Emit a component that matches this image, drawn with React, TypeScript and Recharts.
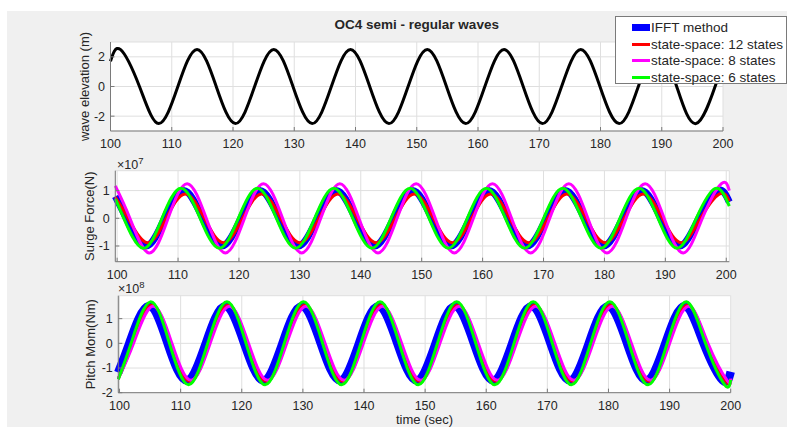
import React from 'react';
import { LineChart, Line, XAxis, YAxis, CartesianGrid } from 'recharts';

const FONT = '"Liberation Sans", Arial, Helvetica, sans-serif';
const AXIS = '#7a7a7a';
const TEXT = '#262626';
const GRID = '#dfdfdf';

const xTicks = [100, 110, 120, 130, 140, 150, 160, 170, 180, 190, 200];

// wave elevation (m): start, peaks / zero crossings / troughs, end
const waveT = [100, 101.6, 104.73, 107.87, 111.0, 114.13, 117.26, 120.4, 123.53, 126.66, 129.79, 132.93, 136.06, 139.19, 142.32, 145.46, 148.59, 151.72, 154.85, 157.99, 161.12, 164.25, 167.38, 170.52, 173.65, 176.78, 179.91, 183.05, 186.18, 189.31, 192.44, 195.58, 198.71, 200];
const waveV = [1.7, 2.5, 0, -2.5, 0, 2.5, 0, -2.5, 0, 2.5, 0, -2.5, 0, 2.5, 0, -2.5, 0, 2.5, 0, -2.5, 0, 2.5, 0, -2.5, 0, 2.5, 0, -2.5, 0, 2.5, 0, -2.5, 0, 1.5];

// surge force (x1e7 N)
const surgeIfftT = [99.7, 101.5, 104.63, 107.77, 110.9, 114.03, 117.17, 120.3, 123.43, 126.56, 129.7, 132.83, 135.96, 139.09, 142.23, 145.36, 148.49, 151.62, 154.76, 157.89, 161.02, 164.15, 167.29, 170.42, 173.55, 176.68, 179.82, 182.95, 186.08, 189.21, 192.35, 195.48, 198.61, 200.5];
const surgeIfftV = [0.79, 0, -1, 0, 1, 0, -1, 0, 1, 0, -1, 0, 1, 0, -1, 0, 1, 0, -1, 0, 1, 0, -1, 0, 1, 0, -1, 0, 1, 0, -1, 0, 1, 0.59];
const surgeSs12T = [99.7, 101.8, 104.93, 108.07, 111.2, 114.33, 117.47, 120.6, 123.73, 126.86, 130.0, 133.13, 136.26, 139.39, 142.53, 145.66, 148.79, 151.92, 155.06, 158.19, 161.32, 164.45, 167.59, 170.72, 173.85, 176.98, 180.12, 183.25, 186.38, 189.51, 192.65, 195.78, 198.91, 200.5];
const surgeSs12V = [0.77, 0, -0.88, 0, 0.88, 0, -0.88, 0, 0.88, 0, -0.88, 0, 0.88, 0, -0.88, 0, 0.88, 0, -0.88, 0, 0.88, 0, -0.88, 0, 0.88, 0, -0.88, 0, 0.88, 0, -0.88, 0, 0.88, 0.62];
const surgeSs8T = [99.7, 102.1, 105.23, 108.37, 111.5, 114.63, 117.77, 120.9, 124.03, 127.16, 130.3, 133.43, 136.56, 139.69, 142.83, 145.96, 149.09, 152.22, 155.36, 158.49, 161.62, 164.75, 167.89, 171.02, 174.15, 177.28, 180.42, 183.55, 186.68, 189.81, 192.95, 196.08, 199.21, 200.5];
const surgeSs8V = [1.17, 0, -1.25, 0, 1.25, 0, -1.25, 0, 1.25, 0, -1.25, 0, 1.25, 0, -1.25, 0, 1.25, 0, -1.25, 0, 1.25, 0, -1.25, 0, 1.25, 0, -1.25, 0, 1.25, 0, -1.25, 0, 1.25, 1.0];
const surgeSs6T = [99.7, 101.1, 104.23, 107.37, 110.5, 113.63, 116.77, 119.9, 123.03, 126.16, 129.3, 132.43, 135.56, 138.69, 141.83, 144.96, 148.09, 151.22, 154.36, 157.49, 160.62, 163.75, 166.89, 170.02, 173.15, 176.28, 179.42, 182.55, 185.68, 188.81, 191.95, 195.08, 198.21, 200.5];
const surgeSs6V = [0.7, 0, -1.08, 0, 1.08, 0, -1.08, 0, 1.08, 0, -1.08, 0, 1.08, 0, -1.08, 0, 1.08, 0, -1.08, 0, 1.08, 0, -1.08, 0, 1.08, 0, -1.08, 0, 1.08, 0, -1.08, 0, 1.08, 0.44];

// pitch moment (x1e8 Nm)
const pitchIfftT = [99.8, 101.6, 104.73, 107.87, 111.0, 114.13, 117.27, 120.4, 123.53, 126.66, 129.8, 132.93, 136.06, 139.19, 142.33, 145.46, 148.59, 151.72, 154.86, 157.99, 161.12, 164.25, 167.39, 170.52, 173.65, 176.78, 179.92, 183.05, 186.18, 189.31, 192.45, 195.58, 198.71, 200];
const pitchIfftV = [-1.18, 0, 1.5, 0, -1.5, 0, 1.5, 0, -1.5, 0, 1.5, 0, -1.5, 0, 1.5, 0, -1.5, 0, 1.5, 0, -1.5, 0, 1.5, 0, -1.5, 0, 1.5, 0, -1.5, 0, 1.5, 0, -1.5, -1.15];
const pitchSs12T = [99.8, 102.15, 105.28, 108.42, 111.55, 114.68, 117.82, 120.95, 124.08, 127.21, 130.35, 133.48, 136.61, 139.74, 142.88, 146.01, 149.14, 152.27, 155.41, 158.54, 161.67, 164.8, 167.94, 171.07, 174.2, 177.33, 180.47, 183.6, 186.73, 189.86, 193.0, 196.13, 199.26, 200];
const pitchSs12V = [-1.43, 0, 1.55, 0, -1.55, 0, 1.55, 0, -1.55, 0, 1.55, 0, -1.55, 0, 1.55, 0, -1.55, 0, 1.55, 0, -1.55, 0, 1.55, 0, -1.55, 0, 1.55, 0, -1.55, 0, 1.55, 0, -1.55, -1.44];
const pitchSs8T = [99.8, 102.3, 105.43, 108.57, 111.7, 114.83, 117.97, 121.1, 124.23, 127.36, 130.5, 133.63, 136.76, 139.89, 143.03, 146.16, 149.29, 152.42, 155.56, 158.69, 161.82, 164.95, 168.09, 171.22, 174.35, 177.48, 180.62, 183.75, 186.88, 190.01, 193.15, 196.28, 199.41, 200];
const pitchSs8V = [-1.43, 0, 1.5, 0, -1.5, 0, 1.5, 0, -1.5, 0, 1.5, 0, -1.5, 0, 1.5, 0, -1.5, 0, 1.5, 0, -1.5, 0, 1.5, 0, -1.5, 0, 1.5, 0, -1.5, 0, 1.5, 0, -1.5, -1.43];
const pitchSs6T = [99.8, 101.9, 105.03, 108.17, 111.3, 114.43, 117.57, 120.7, 123.83, 126.96, 130.1, 133.23, 136.36, 139.49, 142.63, 145.76, 148.89, 152.02, 155.16, 158.29, 161.42, 164.55, 167.69, 170.82, 173.95, 177.08, 180.22, 183.35, 186.48, 189.61, 192.75, 195.88, 199.01, 200];
const pitchSs6V = [-1.46, 0, 1.68, 0, -1.68, 0, 1.68, 0, -1.68, 0, 1.68, 0, -1.68, 0, 1.68, 0, -1.68, 0, 1.68, 0, -1.68, 0, 1.68, 0, -1.68, 0, 1.68, 0, -1.68, 0, 1.68, 0, -1.68, -1.48];

const legendNames = ['IFFT method', 'state-space: 12 states', 'state-space: 8 states', 'state-space: 6 states'];
const legendColors = ['#0000ff', '#ff0000', '#ff00ff', '#00ff00'];

interface Series { name: string; color: string; width: number; t: number[]; v: number[]; }

const toPoints = (t: number[], v: number[]) => t.map((x, i) => ({ t: x, v: v[i] }));

interface PanelProps {
  top: number; bottom: number; left: number; right: number; yAxisWidth: number;
  xDomain: [number, number]; yDomain: [number, number]; yTicks: number[];
  yLabel: string; series: Series[]; xLabel?: string;
}

function Panel(p: PanelProps) {
  const tickStyle = { fill: TEXT, fontSize: 12.5, fontFamily: FONT };
  return (
    <div style={{ position: 'absolute', left: 0, top: 0 }}>
      <LineChart
        width={787}
        height={427}
        margin={{ top: p.top, right: 787 - p.right, bottom: 427 - p.bottom - 20, left: p.left - p.yAxisWidth }}
      >
        <CartesianGrid stroke={GRID} fill="#ffffff" fillOpacity={1} />
        <XAxis
          dataKey="t" type="number" domain={p.xDomain} ticks={xTicks} interval={0} height={20}
          stroke={AXIS} tickSize={-4} tickMargin={12.5} tick={tickStyle}
          label={p.xLabel ? { value: p.xLabel, position: 'bottom', offset: 2.5, fill: TEXT, fontSize: 13, fontFamily: FONT } : undefined}
        />
        <XAxis
          xAxisId="top" orientation="top" type="number" domain={p.xDomain} ticks={xTicks} interval={0} height={0}
          stroke={AXIS} tickSize={-4} tick={false}
        />
        <YAxis
          type="number" domain={p.yDomain} ticks={p.yTicks} interval={0} width={p.yAxisWidth}
          stroke={AXIS} tickSize={-4} tickMargin={9.5} tick={tickStyle}
          label={{ value: p.yLabel, angle: -90, position: 'center', fill: TEXT, fontSize: 13, fontFamily: FONT }}
        />
        <YAxis
          yAxisId="right" orientation="right" type="number" domain={p.yDomain} ticks={p.yTicks} interval={0} width={0}
          stroke={AXIS} tickSize={-4} tick={false}
        />
        {p.series.map((s) => (
          <Line
            key={s.name}
            data={toPoints(s.t, s.v)}
            dataKey="v"
            type="natural"
            stroke={s.color}
            strokeWidth={s.width}
            dot={false}
            activeDot={false}
            isAnimationActive={false}
          />
        ))}
      </LineChart>
    </div>
  );
}

function Exponent({ left, top, power }: { left: number; top: number; power: string }) {
  return (
    <div style={{ position: 'absolute', left, top, fontSize: 12.5, lineHeight: '14px', color: TEXT, fontFamily: FONT, whiteSpace: 'nowrap' }}>
      ×10<span style={{ position: 'relative', top: -5, fontSize: 9.5 }}>{power}</span>
    </div>
  );
}

function LegendBox() {
  return (
    <div style={{
      position: 'absolute', left: 615, top: 16, width: 172, height: 68, boxSizing: 'border-box',
      background: '#ffffff', border: `1px solid ${AXIS}`, paddingTop: 2.5, fontFamily: FONT, fontSize: 13.5, color: TEXT,
    }}>
      {legendNames.map((n, i) => (
        <div key={n} style={{ display: 'flex', alignItems: 'center', height: 16.6, whiteSpace: 'nowrap' }}>
          <div style={{ marginLeft: 16, width: 18, height: i === 0 ? 7 : 3, background: legendColors[i], marginRight: 1 }} />
          <span>{n}</span>
        </div>
      ))}
    </div>
  );
}

export default function App() {
  const waveSeries: Series[] = [{ name: 'wave', color: '#000000', width: 3, t: waveT, v: waveV }];
  const surgeSeries: Series[] = [
    { name: legendNames[0], color: legendColors[0], width: 7, t: surgeIfftT, v: surgeIfftV },
    { name: legendNames[1], color: legendColors[1], width: 3, t: surgeSs12T, v: surgeSs12V },
    { name: legendNames[2], color: legendColors[2], width: 3, t: surgeSs8T, v: surgeSs8V },
    { name: legendNames[3], color: legendColors[3], width: 3, t: surgeSs6T, v: surgeSs6V },
  ];
  const pitchSeries: Series[] = [
    { name: legendNames[0], color: legendColors[0], width: 8.5, t: pitchIfftT, v: pitchIfftV },
    { name: legendNames[1], color: legendColors[1], width: 3, t: pitchSs12T, v: pitchSs12V },
    { name: legendNames[2], color: legendColors[2], width: 3, t: pitchSs8T, v: pitchSs8V },
    { name: legendNames[3], color: legendColors[3], width: 3, t: pitchSs6T, v: pitchSs6V },
  ];
  return (
    <div style={{ position: 'absolute', left: 0, top: 0, width: 787, height: 427, background: '#ffffff', overflow: 'hidden' }}>
      <div style={{ position: 'absolute', left: 7, top: 11, right: 0, bottom: 0, background: '#f0f0f0' }} />
      <div style={{
        position: 'absolute', left: 110.5, width: 612.5, top: 16, textAlign: 'center',
        fontFamily: FONT, fontSize: 13.5, fontWeight: 'bold', color: TEXT, lineHeight: '18px',
      }}>
        OC4 semi - regular waves
      </div>
      <Panel
        top={42} bottom={131} left={110.5} right={723} yAxisWidth={53}
        xDomain={[100, 200]} yDomain={[-3, 3]} yTicks={[-2, 0, 2]}
        yLabel="wave elevation (m)" series={waveSeries}
      />
      <Panel
        top={170.7} bottom={261.7} left={115.3} right={729.3} yAxisWidth={51}
        xDomain={[99.7, 200.5]} yDomain={[-1.567, 1.718]} yTicks={[-1, 0, 1]}
        yLabel="Surge Force(N)" series={surgeSeries}
      />
      <Panel
        top={295.7} bottom={392.7} left={118.3} right={730.7} yAxisWidth={55}
        xDomain={[99.8, 200]} yDomain={[-2, 1.93]} yTicks={[-2, -1, 0, 1]}
        yLabel="Pitch Mom(Nm)" series={pitchSeries} xLabel="time (sec)"
      />
      <Exponent left={117} top={157.6} power="7" />
      <Exponent left={118} top={282.4} power="8" />
      <LegendBox />
    </div>
  );
}
